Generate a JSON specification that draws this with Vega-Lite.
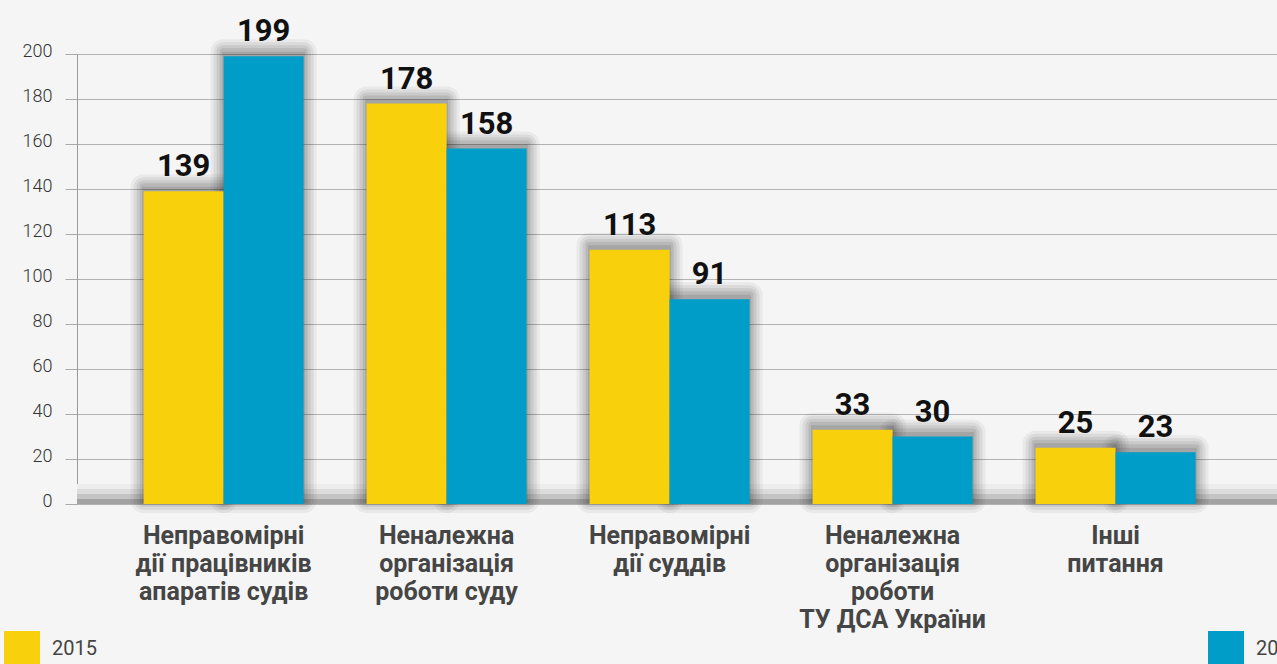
{
  "$schema": "https://vega.github.io/schema/vega-lite/v6.json",
  "width": 1200,
  "height": 450,
  "autosize": {"type": "none"},
  "padding": {"left": 77, "top": 54, "right": 0, "bottom": 160},
  "background": "#f5f5f5",
  "config": {"view": {"stroke": null}},
  "data": {"values": [
    {"category": "Неправомірні\nдії працівників\nапаратів судів", "year": "2015", "value": 139},
    {"category": "Неправомірні\nдії працівників\nапаратів судів", "year": "2016", "value": 199},
    {"category": "Неналежна\nорганізація\nроботи суду", "year": "2015", "value": 178},
    {"category": "Неналежна\nорганізація\nроботи суду", "year": "2016", "value": 158},
    {"category": "Неправомірні\nдії суддів", "year": "2015", "value": 113},
    {"category": "Неправомірні\nдії суддів", "year": "2016", "value": 91},
    {"category": "Неналежна\nорганізація\nроботи\nТУ ДСА України", "year": "2015", "value": 33},
    {"category": "Неналежна\nорганізація\nроботи\nТУ ДСА України", "year": "2016", "value": 30},
    {"category": "Інші\nпитання", "year": "2015", "value": 25},
    {"category": "Інші\nпитання", "year": "2016", "value": 23}
  ]},
  "encoding": {
    "x": {
      "field": "category", "type": "nominal", "sort": null,
      "scale": {"paddingInner": 0.2825, "paddingOuter": 0.332, "align": 0.45},
      "axis": {
        "title": null, "domain": false, "ticks": false, "labelAngle": 0,
        "labelExpr": "split(datum.value, '\\n')",
        "labelFont": "Roboto", "labelFontWeight": "bold", "labelFontSize": 25,
        "labelColor": "#454545", "labelLineHeight": 28, "labelPadding": 19,
        "labelLimit": 400, "labelBaseline": "top"
      }
    },
    "xOffset": {"field": "year", "type": "nominal", "scale": {"paddingInner": 0, "paddingOuter": 0}},
    "y": {
      "field": "value", "type": "quantitative",
      "scale": {"domain": [0, 200], "nice": false},
      "axis": {
        "title": null, "values": [0, 20, 40, 60, 80, 100, 120, 140, 160, 180, 200],
        "domain": true, "domainColor": "#9a9a9a", "ticks": true, "tickSize": 12, "tickColor": "#aaaaaa",
        "grid": true, "gridColor": "#b3b3b3", "gridWidth": 1,
        "labelFont": "Roboto", "labelFontWeight": 300, "labelFontSize": 18, "labelColor": "#333333",
        "labelPadding": 13, "labelOffset": -3
      }
    }
  },
  "layer": [
    {
      "mark": {"type": "rule", "color": "#ededed", "strokeWidth": 5},
      "encoding": {"x": null, "xOffset": null, "y": {"datum": 7.8, "type": "quantitative"}}
    },
    {
      "mark": {"type": "rule", "color": "#dcdcdc", "strokeWidth": 5},
      "encoding": {"x": null, "xOffset": null, "y": {"datum": 5.6, "type": "quantitative"}}
    },
    {
      "mark": {"type": "rule", "color": "#c4c4c4", "strokeWidth": 5},
      "encoding": {"x": null, "xOffset": null, "y": {"datum": 3.35, "type": "quantitative"}}
    },
    {
      "mark": {"type": "rule", "color": "#a3a3a3", "strokeWidth": 5},
      "encoding": {"x": null, "xOffset": null, "y": {"datum": 1.1, "type": "quantitative"}}
    },
    {
      "mark": {"type": "bar", "fill": "#222222", "stroke": "#222222", "strokeWidth": 26, "opacity": 0.05, "strokeJoin": "round", "xOffset": 4, "yOffset": -4, "y2Offset": -13}
    },
    {
      "mark": {"type": "bar", "fill": "#222222", "stroke": "#222222", "strokeWidth": 20, "opacity": 0.07, "strokeJoin": "round", "xOffset": 4, "yOffset": -4, "y2Offset": -10}
    },
    {
      "mark": {"type": "bar", "fill": "#222222", "stroke": "#222222", "strokeWidth": 14, "opacity": 0.08, "strokeJoin": "round", "xOffset": 4, "yOffset": -4, "y2Offset": -7}
    },
    {
      "mark": {"type": "bar", "fill": "#222222", "stroke": "#222222", "strokeWidth": 8, "opacity": 0.1, "strokeJoin": "round", "xOffset": 4, "yOffset": -4, "y2Offset": -4}
    },
    {
      "mark": {"type": "bar", "fill": "#222222", "stroke": "#222222", "strokeWidth": 3, "opacity": 0.12, "xOffset": 3, "yOffset": -3, "y2Offset": -2}
    },
    {
      "mark": {"type": "bar", "opacity": 1},
      "encoding": {
        "color": {
          "field": "year", "type": "nominal",
          "scale": {"domain": ["2015", "2016"], "range": ["#f9d00c", "#009dc8"]},
          "legend": {
            "title": null, "orient": "none", "direction": "horizontal",
            "legendX": -73, "legendY": 577,
            "symbolType": "square", "symbolSize": 1296, "symbolStrokeWidth": 0, "symbolOpacity": 1,
            "labelFont": "Roboto", "labelFontSize": 20, "labelColor": "#444444",
            "labelOffset": 12, "columnPadding": 1111, "padding": 0
          }
        }
      }
    },
    {
      "mark": {"type": "text", "font": "Roboto", "fontWeight": "bold", "fontSize": 31, "color": "#111111", "baseline": "alphabetic", "dy": -15},
      "encoding": {"text": {"field": "value", "type": "quantitative"}}
    }
  ]
}
